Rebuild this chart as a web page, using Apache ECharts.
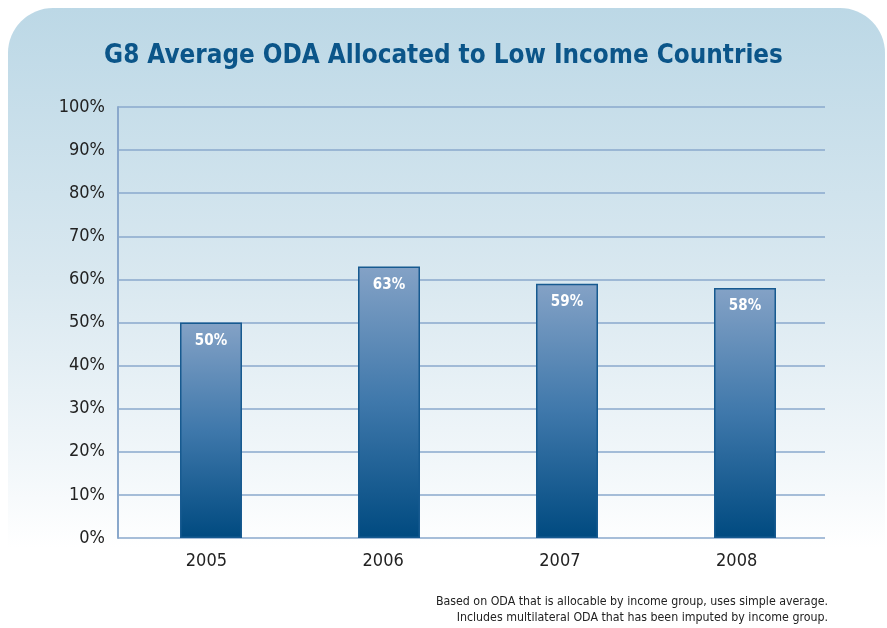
<!DOCTYPE html>
<html>
<head>
<meta charset="utf-8">
<script src="https://cdn.jsdelivr.net/npm/echarts@6/dist/echarts.min.js"></script>
<style>html,body{margin:0;padding:0;background:#fff}#c{width:887px;height:628px}</style>
</head>
<body>
<div id="c"></div>
<script>
var categories = ['2005', '2006', '2007', '2008'];
var values = [50, 63, 59, 58];
var yTicks = [0, 10, 20, 30, 40, 50, 60, 70, 80, 90, 100];
var titleText = 'G8 Average ODA Allocated to Low Income Countries';
var noteLines = ['Based on ODA that is allocable by income group, uses simple average.', 'Includes multilateral ODA that has been imputed by income group.'];

var FONT = '"DejaVu Sans Condensed", "Liberation Sans Narrow", sans-serif';
var chart = echarts.init(document.getElementById('c'));
chart.setOption({
  animation: false,
  backgroundColor: '#ffffff',
  graphic: [
    {type: 'rect', z: -10, shape: {x: 8, y: 8, width: 877, height: 540, r: [45, 45, 0, 0]},
     style: {fill: new echarts.graphic.LinearGradient(0, 0, 0, 1, [
       {offset: 0, color: '#bcd8e6'}, {offset: 0.5, color: '#d9e8f0'}, {offset: 0.85, color: '#f2f7fa'}, {offset: 1, color: '#ffffff'}])}},
    {type: 'text', left: 'center', top: 43, style: {text: titleText, font: 'bold 25.8px ' + FONT, fill: '#0b5589'}},
    {type: 'text', right: 59, top: 596, style: {text: noteLines[0], font: '12.3px ' + FONT, fill: '#222'}},
    {type: 'text', right: 59, top: 612, style: {text: noteLines[1], font: '12.3px ' + FONT, fill: '#222'}}
  ],
  grid: [
    {left: 118, right: 62, top: 107, bottom: 90},
    {left: 122, right: 53, top: 107, bottom: 90}
  ],
  xAxis: [
    {type: 'category', gridIndex: 0, data: categories,
     axisLine: {show: false}, axisTick: {show: false},
     axisLabel: {margin: 14, fontSize: 18, fontFamily: FONT, color: '#222'}},
    {type: 'category', gridIndex: 1, data: categories, show: false}
  ],
  yAxis: [
    {type: 'value', gridIndex: 0, min: 0, max: 100, interval: 10,
     axisLine: {show: true, lineStyle: {color: '#8aa8cc', width: 2}}, axisTick: {show: false},
     splitLine: {lineStyle: {color: '#8aa8cc', width: 1.5}},
     axisLabel: {formatter: function (v) { return yTicks.indexOf(v) >= 0 ? v + '%' : ''; }, margin: 13, fontSize: 18, fontFamily: FONT, color: '#222'}},
    {type: 'value', gridIndex: 1, min: 0, max: 100, show: false, splitLine: {show: false}}
  ],
  series: [{
    type: 'bar', xAxisIndex: 1, yAxisIndex: 1, data: values, barWidth: 62,
    itemStyle: {
      borderColor: '#175a90', borderWidth: 1.5,
      color: new echarts.graphic.LinearGradient(0, 0, 0, 1, [
        {offset: 0, color: '#84a2c6'}, {offset: 0.5, color: '#3f78ab'}, {offset: 1, color: '#004a80'}])
    },
    label: {show: true, position: 'insideTop', distance: 11, formatter: '{c}%', color: '#ffffff', fontWeight: 'bold', fontSize: 15, fontFamily: FONT}
  }]
});
</script>
</body>
</html>
